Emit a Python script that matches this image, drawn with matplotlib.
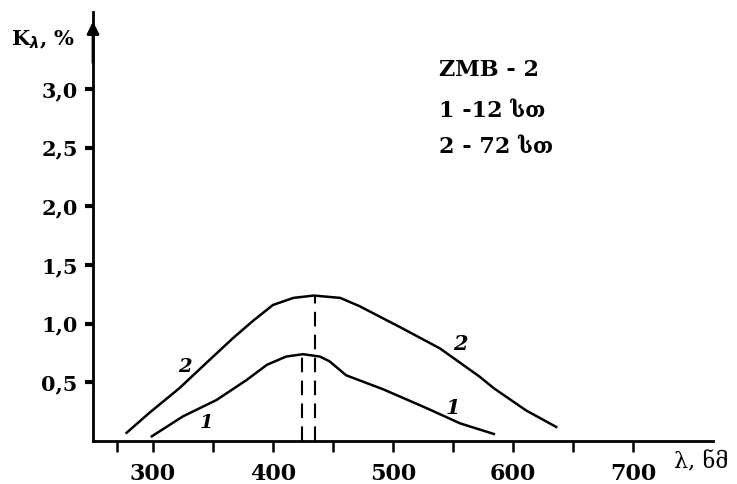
import matplotlib
matplotlib.use("Agg")
from matplotlib import pyplot as plt

plt.rcParams["font.family"] = ["DejaVu Serif", "DejaVu Sans"]
plt.rcParams["font.weight"] = "bold"

# curve 2 (72 h) and curve 1 (12 h)
wl_2 = [278, 297, 322, 347, 367, 384, 400, 417, 434, 456, 472, 506, 539, 572, 584, 611, 636]
k_2 = [0.07, 0.24, 0.45, 0.69, 0.88, 1.03, 1.16, 1.22, 1.24, 1.22, 1.15, 0.97, 0.79, 0.55, 0.45, 0.26, 0.12]

wl_1 = [299, 325, 353, 378, 395, 411, 425, 439, 447, 461, 492, 528, 556, 584]
k_1 = [0.04, 0.21, 0.35, 0.52, 0.65, 0.72, 0.74, 0.72, 0.68, 0.56, 0.44, 0.28, 0.15, 0.06]

peak_wl = [424, 435]
peak_k = [0.74, 1.24]

y_ticks = [0.5, 1.0, 1.5, 2.0, 2.5, 3.0]
y_labels = ["0,5", "1,0", "1,5", "2,0", "2,5", "3,0"]
x_ticks = [300, 400, 500, 600, 700]
x_minor = [270, 350, 450, 550, 650]

legend_lines = ["ZMB - 2", "1 -12 სთ", "2 - 72 სთ"]

fig = plt.figure(figsize=(7.37, 4.84), dpi=100)
ax = fig.add_axes([93 / 737, 43 / 484, 620 / 737, 429 / 484])
ax.set_xlim(250, 250 + 620 / 1.2)
ax.set_ylim(0, 429 / 117.3)

for s in ["top", "right"]:
    ax.spines[s].set_visible(False)
ax.spines["left"].set_linewidth(2)
ax.spines["bottom"].set_linewidth(2)

ax.plot(wl_2, k_2, color="black", lw=1.8)
ax.plot(wl_1, k_1, color="black", lw=1.8)
for w, k in zip(peak_wl, peak_k):
    ax.plot([w, w], [0, k], color="black", lw=1.5, dashes=(7, 4))

ax.annotate("", xy=(250, 3.6), xytext=(250, 3.2),
            arrowprops=dict(arrowstyle="-|>", color="black", lw=2, mutation_scale=18),
            annotation_clip=False)

ax.set_yticks(y_ticks)
ax.set_yticklabels(y_labels)
ax.set_xticks(x_ticks)
ax.set_xticks(x_minor, minor=True)
ax.tick_params(axis="y", direction="out", length=6, width=3, pad=5, labelsize=15)
ax.tick_params(axis="x", which="both", direction="out", length=8, width=1.8, pad=8, labelsize=16)

# curve numbers
ax.text(327, 0.63, "2", fontsize=14, style="italic", ha="center", va="center")
ax.text(345, 0.15, "1", fontsize=14, style="italic", ha="center", va="center")
ax.text(556, 0.83, "2", fontsize=15, style="italic", ha="center", va="center")
ax.text(550, 0.28, "1", fontsize=15, style="italic", ha="center", va="center")

for line, k in zip(legend_lines, [3.16, 2.81, 2.51]):
    ax.text(538, k, line, fontsize=16, ha="left", va="center")

ax.text(182, 3.42, r"K$_\lambda$, %", fontsize=15, ha="left", va="center", clip_on=False)
ax.text(734, -0.18, "λ, ნმ", fontsize=16, fontweight="normal", ha="left", va="center", clip_on=False)

fig.savefig("out.png", dpi=100)
